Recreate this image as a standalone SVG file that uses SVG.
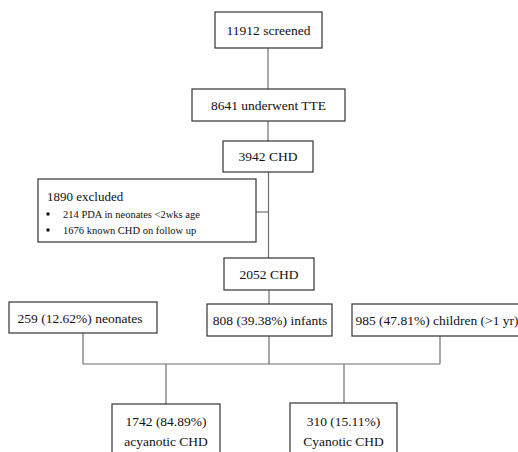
<svg xmlns="http://www.w3.org/2000/svg" width="518" height="452" viewBox="0 0 518 452">
<style>
.box{fill:#fff;stroke:#333;stroke-width:1.2}
.t{font-family:'Liberation Serif','DejaVu Serif',serif;font-size:13.5px;fill:#111;text-anchor:middle}
.s{font-family:'Liberation Serif','DejaVu Serif',serif;font-size:10.5px;fill:#111}
.c{stroke:#6e6e6e;stroke-width:1.2;fill:none}
</style>
<rect width="518" height="452" fill="#fff"/>
<g id="connectors">
<line class="c" x1="268" y1="48" x2="268" y2="89"/>
<line class="c" x1="268" y1="121" x2="268" y2="141"/>
<line class="c" x1="268.5" y1="172" x2="268.5" y2="258"/>
<line class="c" x1="256" y1="212" x2="268.5" y2="212"/>
<line class="c" x1="269" y1="290" x2="269" y2="304"/>
<line class="c" x1="83" y1="333" x2="83" y2="364"/>
<line class="c" x1="269" y1="336" x2="269" y2="364"/>
<line class="c" x1="440" y1="336" x2="440" y2="364"/>
<line class="c" x1="83" y1="364" x2="440" y2="364" stroke="#444"/>
<line class="c" x1="166" y1="364" x2="166" y2="404"/>
<line class="c" x1="344" y1="364" x2="344" y2="403"/>
</g>
<g id="n1"><rect class="box" x="215" y="12" width="107" height="36"/><text class="t" x="268.5" y="35" font-family="Liberation Serif, serif">11912 screened</text></g>
<g id="n2"><rect class="box" x="192" y="89" width="153" height="32"/><text class="t" x="268.5" y="110">8641 underwent TTE</text></g>
<g id="n3"><rect class="box" x="223" y="141" width="90" height="31"/><text class="t" x="268" y="161">3942 CHD</text></g>
<g id="excluded"><rect class="box" x="38" y="179" width="218" height="63"/>
<text class="s" x="47" y="201" style="font-size:13px">1890 excluded</text>
<rect x="46.5" y="212.5" width="3" height="3" fill="#111"/>
<text class="s" x="63" y="218">214 PDA in neonates &lt;2wks age</text>
<rect x="46.5" y="228.5" width="3" height="3" fill="#111"/>
<text class="s" x="63" y="234">1676 known CHD on follow up</text>
</g>
<g id="n4"><rect class="box" x="224" y="258" width="90" height="32"/><text class="t" x="269" y="279">2052 CHD</text></g>
<g id="neonates"><rect class="box" x="9" y="302" width="148" height="31"/><text class="t" x="80" y="323">259 (12.62%) neonates</text></g>
<g id="infants"><rect class="box" x="207" y="304" width="125" height="32"/><text class="t" x="270" y="325">808 (39.38%) infants</text></g>
<g id="children"><rect class="box" x="352" y="304" width="170" height="32"/><text class="t" x="437" y="325">985 (47.81%) children (&gt;1 yr)</text></g>
<g id="acyanotic"><rect class="box" x="112" y="404" width="108" height="60"/><text class="t" x="166" y="426">1742 (84.89%)</text><text class="t" x="166" y="446">acyanotic CHD</text></g>
<g id="cyanotic"><rect class="box" x="290" y="403" width="107" height="60"/><text class="t" x="343.5" y="426">310 (15.11%)</text><text class="t" x="343.5" y="446">Cyanotic CHD</text></g>
</svg>
